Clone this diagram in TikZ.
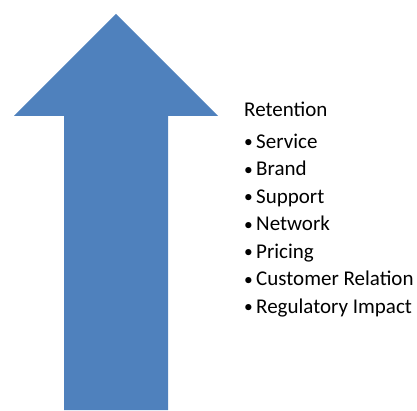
\documentclass[tikz,border=0pt]{standalone}
\usepackage{fontspec}
\setmainfont{Carlito}
\usepackage{tikz}
\usetikzlibrary{positioning}
\definecolor{arrowblue}{HTML}{4F81BD}
\tikzstyle{bigarrow} = [fill=arrowblue, draw=none]
\tikzstyle{heading} = [font=\fontsize{21}{25}\selectfont, inner sep=0pt, anchor=base west]
\tikzstyle{item} = [heading]
\newcommand{\bulletitem}[1]{\makebox[12pt][l]{\raisebox{0.6pt}{\fontsize{17.5}{17.5}\selectfont•}}#1}

\begin{document}
\begin{tikzpicture}[x=1pt, y=1pt]
\useasboundingbox (0,0) rectangle (417,410);

% up arrow
\coordinate (tip) at (116,396);
\fill [bigarrow] (64,0) -- (64,294) -- (14,294) -- (tip) -- (218,294) -- (168,294) -- (168,0) -- cycle;

\node [heading] (retention) at (244,293) {Retention};
\node [item] (service) at ([xshift=0pt, yshift=-31.3pt]retention.base west) {\bulletitem{Service}};
\node [item] (brand) at ([yshift=-27.5pt]service.base west) {\bulletitem{Brand}};
\node [item] (support) at ([yshift=-27.5pt]brand.base west) {\bulletitem{Support}};
\node [item] (network) at ([yshift=-27.5pt]support.base west) {\bulletitem{Network}};
\node [item] (pricing) at ([yshift=-27.5pt]network.base west) {\bulletitem{Pricing}};
\node [item] (customer) at ([yshift=-27.5pt]pricing.base west) {\bulletitem{Customer Relation}};
\node [item] (regulatory) at ([yshift=-27.5pt]customer.base west) {\bulletitem{Regulatory Impact}};
\end{tikzpicture}
\end{document}
